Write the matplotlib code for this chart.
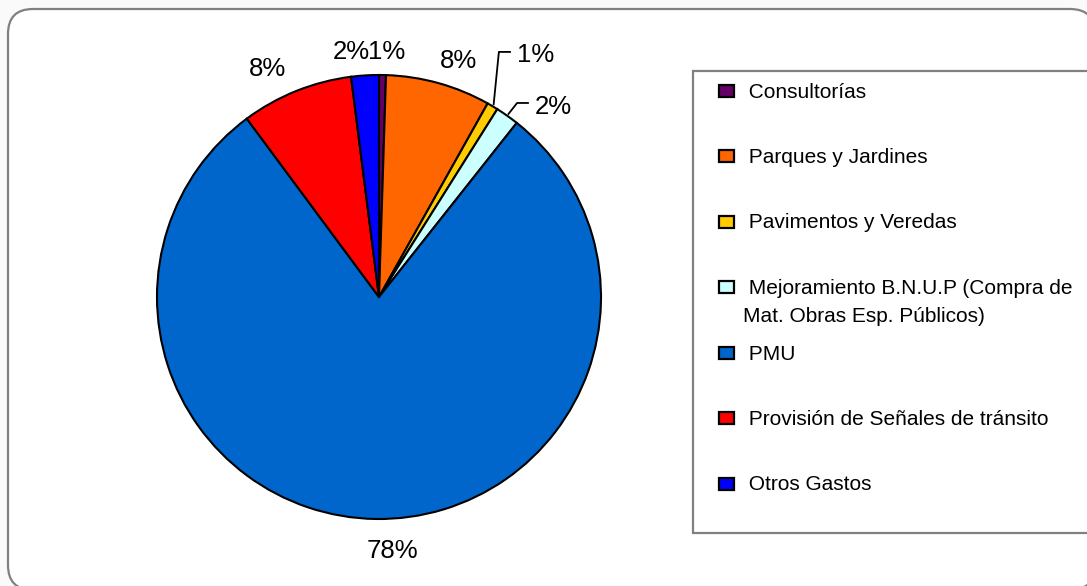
import numpy as np
import matplotlib
matplotlib.use('Agg')
import matplotlib.pyplot as plt
from matplotlib.patches import FancyBboxPatch, Rectangle

plt.rcParams['font.family'] = ['Liberation Sans', 'DejaVu Sans']

categories = ['Consultorías', 'Parques y Jardines', 'Pavimentos y Veredas',
              'Mejoramiento B.N.U.P (Compra de\nMat. Obras Esp. Públicos)',
              'PMU', 'Provisión de Señales de tránsito', 'Otros Gastos']
shares = [0.5, 7.6, 0.8, 1.7, 78.8, 8.1, 2.0]
pct_labels = ['1%', '8%', '1%', '2%', '78%', '8%', '2%']
colors = ['#660066', '#FF6600', '#FFCC00', '#CCFFFF', '#0066CC', '#FF0000', '#0000FF']

W, H = 1087, 586
fig = plt.figure(figsize=(W / 100, H / 100), dpi=100)
fig.patch.set_facecolor('#fafafa')
inch = fig.dpi_scale_trans


def px(x, y):
    # pixel position (from top-left) -> inches for dpi_scale_trans
    return x / 100, (H - y) / 100


# outer rounded frame
x0, y0 = px(8, 590)
frame = FancyBboxPatch((x0 + 0.25, y0 + 0.25), (1095 - 8) / 100 - 0.5, (590 - 9) / 100 - 0.5,
                       boxstyle='round,pad=0.25', transform=inch,
                       facecolor='white', edgecolor='#808080', lw=1.6, zorder=-2)
fig.add_artist(frame)

# pie axes: center (379, 297) px, radius 222 px, limits +-1.3
R = 222
half = 1.3 * R
ax = fig.add_axes([(379 - half) / W, (H - 297 - half) / H, 2 * half / W, 2 * half / H])
wedges, _ = ax.pie(shares, colors=colors, startangle=90, counterclock=False,
                   wedgeprops=dict(edgecolor='black', linewidth=1.5))
ax.set_xlim(-1.3, 1.3)
ax.set_ylim(-1.3, 1.3)
ax.set_aspect('equal')
ax.axis('off')

lbl_font = 18.5
# small pixel nudges for the label placement (like Excel's best fit)
nudge = {0: (4, 0), 1: (14, 0), 4: (17, 9), 5: (-20, 0), 6: (-12, 0)}
for i, (w, lab) in enumerate(zip(wedges, pct_labels)):
    mid = np.deg2rad((w.theta1 + w.theta2) / 2)
    if i == 2:
        ex, ey = 1.01 * np.cos(mid), 1.01 * np.sin(mid)
        ax.plot([ex, 0.54, 0.59], [ey, 1.104, 1.104], color='black', lw=1.3, clip_on=False)
        ax.text(0.62, 1.09, lab, fontsize=lbl_font, ha='left', va='center')
    elif i == 3:
        ex, ey = 1.01 * np.cos(mid), 1.01 * np.sin(mid)
        ax.plot([ex, 0.622, 0.671], [ey, 0.874, 0.874], color='black', lw=1.3, clip_on=False)
        ax.text(0.703, 0.856, lab, fontsize=lbl_font, ha='left', va='center')
    else:
        r = 1.105
        dx, dy = nudge.get(i, (0, 0))
        ax.text(r * np.cos(mid) + dx / R, r * np.sin(mid) - dy / R, lab,
                fontsize=lbl_font, ha='center', va='center')

# legend box
lx, ly = px(693, 533)
fig.add_artist(Rectangle((lx, ly), (1110 - 693) / 100, (533 - 71) / 100, transform=inch,
                         facecolor='white', edgecolor='#808080', lw=1.6, zorder=-1))
for i, (name, c) in enumerate(zip(categories, colors)):
    yc = 90.5 + i * 65.5
    mx, my = px(719, yc + 6)
    fig.add_artist(Rectangle((mx, my), 0.145, 0.12, transform=inch,
                             facecolor=c, edgecolor='black', lw=1.6))
    for j, line in enumerate(name.split('\n')):
        tx, ty = px(743, yc + 7 + 28 * j)
        fig.text(tx, ty, (' ' if j == 0 else '') + line, transform=inch,
                 fontsize=15, ha='left', va='baseline')

fig.savefig('out.png', dpi=100, facecolor=fig.get_facecolor())
